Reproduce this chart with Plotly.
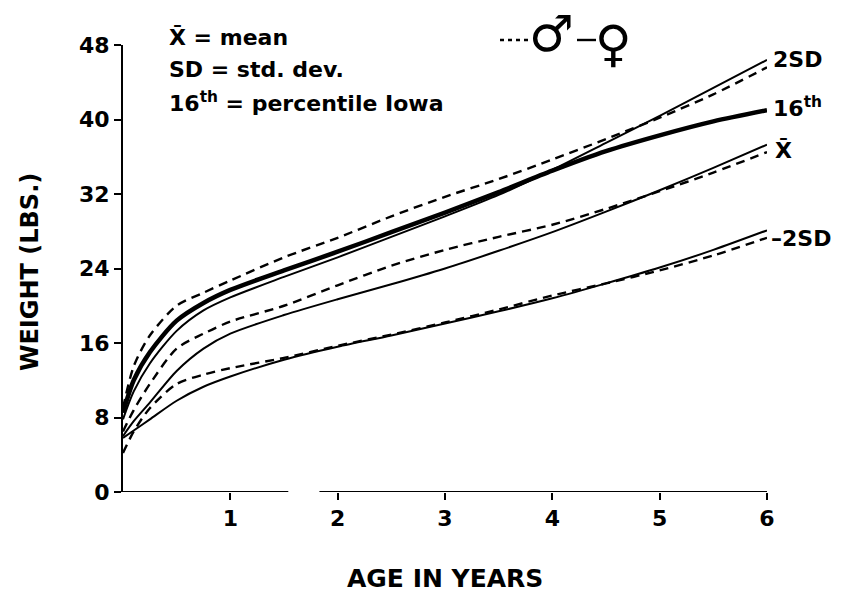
import plotly.graph_objects as go

# Age in years at which the curves are tabulated
AGE = [0, 0.1, 0.25, 0.5, 0.75, 1, 1.5, 2, 2.5, 3, 3.5, 4, 4.5, 5, 5.5, 6]

# Weight (lbs) curves
male_plus2sd = [9.0, 13.5, 16.8, 20.0, 21.4, 22.7, 25.2, 27.3, 29.6, 31.7, 33.6, 35.7, 37.9, 40.2, 42.7, 45.6]
pct16_iowa = [8.5, 12.0, 15.0, 18.4, 20.3, 21.7, 23.8, 25.8, 27.9, 30.0, 32.2, 34.5, 36.6, 38.3, 39.8, 41.0]
female_plus2sd = [7.8, 10.8, 13.8, 17.3, 19.5, 20.9, 23.1, 25.2, 27.4, 29.6, 31.9, 34.6, 37.5, 40.4, 43.4, 46.4]
male_mean = [6.5, 8.8, 11.6, 15.4, 17.0, 18.3, 20.0, 22.2, 24.3, 26.0, 27.4, 28.7, 30.4, 32.3, 34.3, 36.5]
female_mean = [6.0, 7.6, 9.6, 13.0, 15.4, 17.0, 19.0, 20.7, 22.3, 24.0, 25.9, 27.9, 30.1, 32.4, 34.8, 37.3]
male_minus2sd = [4.2, 6.5, 9.0, 11.6, 12.6, 13.3, 14.4, 15.7, 16.9, 18.2, 19.6, 21.1, 22.4, 23.8, 25.4, 27.3]
female_minus2sd = [5.8, 6.6, 7.8, 9.8, 11.3, 12.4, 14.2, 15.6, 16.8, 18.1, 19.4, 20.8, 22.4, 24.1, 26.0, 28.1]

# Axis ticks
Y_TICKS = [0, 8, 16, 24, 32, 40, 48]
X_TICKS = [1, 2, 3, 4, 5, 6]
# Break in the age axis line
AXIS_SEGMENTS = [(0, 1.54), (1.83, 6)]

FONT = "DejaVu Sans, Verdana, sans-serif"
INK = "black"
DASH = "9px,6px"

fig = go.Figure()


def curve(y, width, dash="solid"):
    fig.add_trace(go.Scatter(
        x=AGE, y=y, mode="lines",
        line=dict(color=INK, width=width, dash=dash, shape="spline", smoothing=0.8),
        showlegend=False, hoverinfo="skip",
    ))


curve(female_minus2sd, 2)
curve(male_minus2sd, 2.4, DASH)
curve(female_mean, 2)
curve(male_mean, 2.4, DASH)
curve(female_plus2sd, 2)
curve(male_plus2sd, 2.4, DASH)
curve(pct16_iowa, 4.5)

shapes = []
for x0, x1 in AXIS_SEGMENTS:
    shapes.append(dict(type="line", xref="x", yref="y", x0=x0, x1=x1, y0=0, y1=0,
                       line=dict(color=INK, width=2)))


def px_x(px):
    return (px - 123) / 644


def px_y(py):
    return (492 - py) / 447


# key samples for the sex symbols
shapes.append(dict(type="line", xref="paper", yref="paper",
                   x0=px_x(500), x1=px_x(529), y0=px_y(40), y1=px_y(40),
                   line=dict(color=INK, width=2.4, dash="4px,4px")))
shapes.append(dict(type="line", xref="paper", yref="paper",
                   x0=px_x(577), x1=px_x(596), y0=px_y(40), y1=px_y(40),
                   line=dict(color=INK, width=2.4)))

TXT = 22
annotations = [
    dict(text="X\u0304 = mean", x=px_x(167), y=px_y(38)),
    dict(text="SD = std. dev.", x=px_x(167), y=px_y(70)),
    dict(text="16<sup>th</sup> = percentile Iowa", x=px_x(167), y=px_y(102)),
    dict(text="2SD", x=px_x(771), y=px_y(60)),
    dict(text="16<sup>th</sup>", x=px_x(771), y=px_y(107)),
    dict(text="X\u0304", x=px_x(773), y=px_y(150)),
    dict(text="\u20132SD", x=px_x(769), y=px_y(238)),
]
for a in annotations:
    a.update(xref="paper", yref="paper", xanchor="left", yanchor="middle",
             showarrow=False, font=dict(family=FONT, size=TXT, color=INK, weight="bold"))

annotations += [
    dict(text="\u2642", x=px_x(551), y=px_y(34), xref="paper", yref="paper",
         xanchor="center", yanchor="middle", showarrow=False,
         font=dict(family="DejaVu Sans", size=50, color=INK)),
    dict(text="\u2640", x=px_x(613), y=px_y(44), xref="paper", yref="paper",
         xanchor="center", yanchor="middle", showarrow=False,
         font=dict(family="DejaVu Sans", size=50, color=INK)),
    dict(text="WEIGHT (LBS.)", x=px_x(30), y=px_y(272), xref="paper", yref="paper",
         xanchor="center", yanchor="middle", textangle=-90, showarrow=False,
         font=dict(family=FONT, size=24, color=INK, weight="bold")),
    dict(text="AGE IN YEARS", x=px_x(445), y=px_y(578), xref="paper", yref="paper",
         xanchor="center", yanchor="middle", showarrow=False,
         font=dict(family=FONT, size=25, color=INK, weight="bold")),
]

fig.update_layout(
    width=847, height=594,
    margin=dict(l=123, r=80, t=45, b=102),
    paper_bgcolor="white", plot_bgcolor="white",
    shapes=shapes, annotations=annotations,
    xaxis=dict(range=[0, 6], tickvals=X_TICKS, ticks="outside", ticklen=7, tickwidth=2,
               tickcolor=INK, showgrid=False, zeroline=False, showline=False,
               tickfont=dict(family=FONT, size=22, color=INK, weight="bold")),
    yaxis=dict(range=[0, 48], tickvals=Y_TICKS, ticks="outside", ticklen=7, tickwidth=2,
               tickcolor=INK, showgrid=False, zeroline=False, showline=True,
               linecolor=INK, linewidth=2,
               tickfont=dict(family=FONT, size=22, color=INK, weight="bold")),
)

fig.write_html("out.html")
